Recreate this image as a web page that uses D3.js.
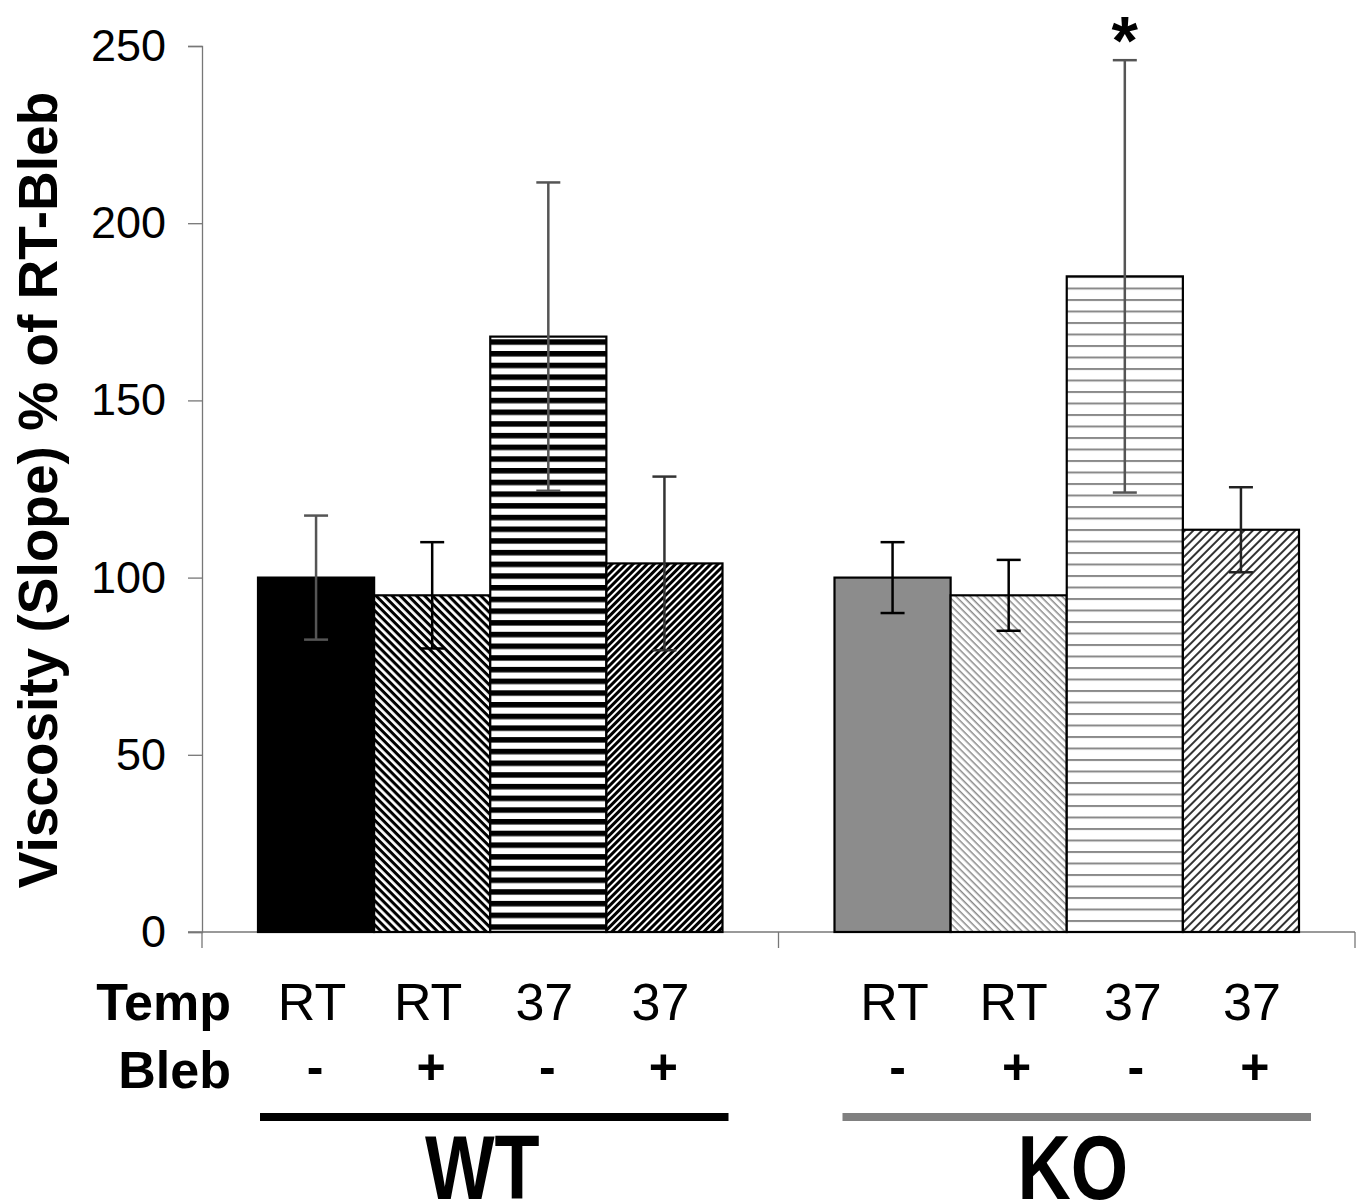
<!DOCTYPE html>
<html>
<head>
<meta charset="utf-8">
<script src="https://cdn.jsdelivr.net/npm/d3@7"></script>
<style>
  body { margin: 0; background: #fff; }
  text { font-family: "Liberation Sans", Arial, sans-serif; }
</style>
</head>
<body>
<svg id="chart" width="1363" height="1203"></svg>
<script>
const groups = ["WT", "KO"];
const conditions = ["RT-", "RT+", "37-", "37+"];
const tempLabels = ["RT", "RT", "37", "37"];
const blebLabels = ["-", "+", "-", "+"];
const wtMeans = [100, 95, 168, 104];
const wtErrs = [17.5, 15, 43.5, 24.5];
const koMeans = [100, 95, 185, 113.5];
const koErrs = [10, 10, 61, 12];
const yTicks = [0, 50, 100, 150, 200, 250];

const svg = d3.select("#chart");
const defs = svg.append("defs");

// hatch patterns: id, stripe angle, period, stripe width, color
function hatch(id, angle, period, w, color) {
  const p = defs.append("pattern")
    .attr("id", id)
    .attr("patternUnits", "userSpaceOnUse")
    .attr("width", period).attr("height", period)
    .attr("patternTransform", `rotate(${angle})`);
  p.append("rect").attr("width", period).attr("height", period).attr("fill", "#fff");
  p.append("rect").attr("width", period).attr("height", w).attr("fill", color);
}
hatch("wt-rtp", 45, 5.7, 3.0, "#000");
hatch("wt-37m", 0, 11.7, 5.5, "#000");
hatch("wt-37p", -45, 5.0, 3.0, "#000");
hatch("ko-rtp", 45, 5.0, 1.5, "#8a8a8a");
hatch("ko-37m", 0, 11.5, 2, "#8a8a8a");
hatch("ko-37p", -45, 6.0, 2.0, "#333");

const fills = {
  WT: ["#000", "url(#wt-rtp)", "url(#wt-37m)", "url(#wt-37p)"],
  KO: ["#8c8c8c", "url(#ko-rtp)", "url(#ko-37m)", "url(#ko-37p)"]
};
const errColors = {
  WT: ["#555", "#000", "#555", "#333"],
  KO: ["#000", "#000", "#555", "#222"]
};

const data = [];
groups.forEach(g => {
  const means = g === "WT" ? wtMeans : koMeans;
  const errs = g === "WT" ? wtErrs : koErrs;
  conditions.forEach((c, i) => data.push({group: g, cond: c, i, mean: means[i], err: errs[i]}));
});

const x0 = d3.scaleBand().domain(groups).range([202, 1355]);
const x1 = d3.scaleBand().domain(conditions).range([56, x0.bandwidth() - 56]);
const y = d3.scaleLinear().domain([0, 250]).range([932, 46]);

// axes
const yAxis = svg.append("g")
  .attr("transform", "translate(202,0)")
  .call(d3.axisLeft(y).tickValues(yTicks).tickSize(14).tickPadding(22));
yAxis.select(".domain").attr("stroke", "#777").attr("stroke-width", 1.3);
yAxis.selectAll(".tick line").attr("stroke", "#777").attr("stroke-width", 1.3);
yAxis.selectAll(".tick text")
  .attr("fill", "#000")
  .style("font-size", "45px")
  .style("font-family", "'Liberation Sans', Arial, sans-serif");

const xAxis = svg.append("g")
  .attr("transform", "translate(0,932)")
  .call(d3.axisBottom(x0).tickSize(0).tickFormat(""));
xAxis.select(".domain").attr("stroke", "#777").attr("stroke-width", 1.3).attr("d", "M188,0H1355");
[202, x0("KO"), 1355].forEach(v => {
  xAxis.append("line").attr("x1", v).attr("x2", v).attr("y1", 0).attr("y2", 16)
    .attr("stroke", "#777").attr("stroke-width", 1.3);
});

// bars
const bx = d => x0(d.group) + x1(d.cond);
svg.append("g").selectAll("rect")
  .data(data)
  .join("rect")
  .attr("x", bx)
  .attr("y", d => y(d.mean))
  .attr("width", x1.bandwidth())
  .attr("height", d => y(0) - y(d.mean))
  .attr("fill", d => fills[d.group][d.i])
  .attr("stroke", "#000")
  .attr("stroke-width", 2.2);

// error bars
const eb = svg.append("g").selectAll("g")
  .data(data)
  .join("g")
  .attr("stroke", d => errColors[d.group][d.i])
  .attr("stroke-width", 2.5);
const cx = d => bx(d) + x1.bandwidth() / 2;
eb.append("line")
  .attr("x1", cx).attr("x2", cx)
  .attr("y1", d => y(d.mean + d.err)).attr("y2", d => y(d.mean - d.err));
eb.append("line")
  .attr("x1", d => cx(d) - 12).attr("x2", d => cx(d) + 12)
  .attr("y1", d => y(d.mean + d.err)).attr("y2", d => y(d.mean + d.err));
eb.append("line")
  .attr("x1", d => cx(d) - 12).attr("x2", d => cx(d) + 12)
  .attr("y1", d => y(d.mean - d.err)).attr("y2", d => y(d.mean - d.err));

// significance star on KO 37-
const star = data.find(d => d.group === "KO" && d.cond === "37-");
svg.append("text")
  .attr("x", cx(star))
  .attr("y", y(star.mean + star.err) + 4)
  .attr("text-anchor", "middle")
  .style("font-size", "68px")
  .style("font-weight", "bold")
  .text("*");

// y label
svg.append("text")
  .attr("transform", "translate(57,490) rotate(-90)")
  .attr("text-anchor", "middle")
  .style("font-size", "55px")
  .style("font-weight", "bold")
  .text("Viscosity (Slope) % of RT-Bleb");

// condition rows
svg.append("text").attr("x", 231).attr("y", 1020).attr("text-anchor", "end")
  .style("font-size", "52px").style("font-weight", "bold").text("Temp");
svg.append("text").attr("x", 231).attr("y", 1088).attr("text-anchor", "end")
  .style("font-size", "52px").style("font-weight", "bold").text("Bleb");

// KO labels sit a little to the right of their bar centres
const labelShift = d => (d.group === "KO" ? 2 + d.i * 3 : -4);

svg.append("g").selectAll("text.temp")
  .data(data)
  .join("text")
  .attr("x", d => cx(d) + labelShift(d))
  .attr("y", 1020)
  .attr("text-anchor", "middle")
  .style("font-size", "52px")
  .text(d => tempLabels[d.i]);

svg.append("g").selectAll("text.bleb")
  .data(data)
  .join("text")
  .attr("x", d => cx(d) + labelShift(d) + 3)
  .attr("y", 1084)
  .attr("text-anchor", "middle")
  .style("font-size", "50px")
  .style("font-weight", "bold")
  .text(d => blebLabels[d.i]);

// group bars and labels
const groupColors = {WT: "#000", KO: "#808080"};
groups.forEach(g => {
  const shift = g === "KO" ? 8 : 2;
  const left = x0(g) + x1(conditions[0]) + shift;
  const right = x0(g) + x1(conditions[3]) + x1.bandwidth() + shift + 4;
  svg.append("rect")
    .attr("x", left).attr("y", 1113)
    .attr("width", right - left).attr("height", 8)
    .attr("fill", groupColors[g]);
  const mid = (left + right) / 2 - (g === "WT" ? 12 : 4);
  svg.append("text")
    .attr("transform", `translate(${mid},1199) scale(0.82,1)`)
    .attr("text-anchor", "middle")
    .style("font-size", "90px")
    .style("font-weight", "bold")
    .text(g);
});
</script>
</body>
</html>
